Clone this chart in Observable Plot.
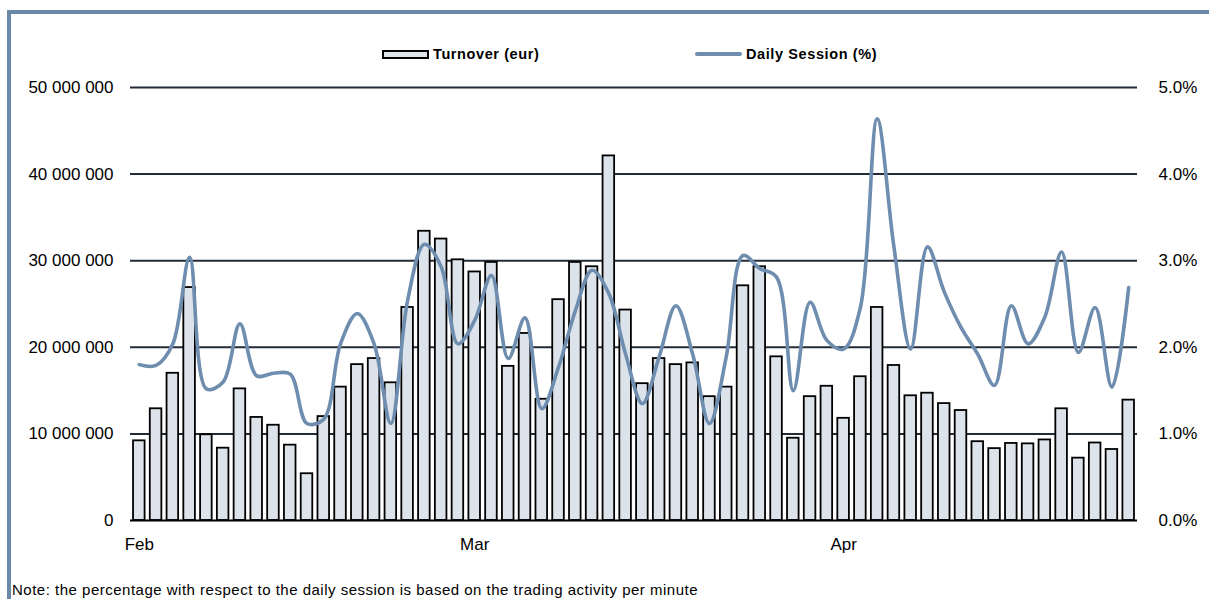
<!DOCTYPE html>
<html>
<head>
<meta charset="utf-8">
<script src="https://cdn.jsdelivr.net/npm/d3@7"></script>
<script src="https://cdn.jsdelivr.net/npm/@observablehq/plot@0.6"></script>
<style>
  html, body { margin: 0; padding: 0; background: #fff; }
  #wrap { position: relative; width: 1209px; height: 599px; overflow: hidden; font-family: "Liberation Sans", Arial, sans-serif; color: #000; }
  .border-top { position: absolute; left: 7px; top: 10px; width: 1202px; height: 4px; background: #6A89A9; }
  .border-left { position: absolute; left: 7px; top: 10px; width: 4px; height: 589px; background: #6A89A9; }
  #chart { position: absolute; left: 0; top: 70px; }
  .legend { position: absolute; top: 46px; font-size: 14.5px; font-weight: bold; letter-spacing: 0.6px; display: flex; align-items: center; white-space: nowrap; }
  .sw-bar { width: 43px; height: 5px; background: #DCE3EA; border: 2px solid #000; margin-right: 4px; }
  .sw-line { width: 47px; height: 4px; background: #6E8DAF; border-radius: 2px; margin-right: 4px; }
  .note { position: absolute; left: 12px; top: 581px; font-size: 15px; line-height: 17px; letter-spacing: 0.5px; white-space: nowrap; }
</style>
</head>
<body>
<div id="wrap">
  <div class="border-top"></div>
  <div class="border-left"></div>
  <div class="legend" style="left:382px"><div class="sw-bar"></div>Turnover (eur)</div>
  <div class="legend" style="left:695px"><div class="sw-line"></div>Daily Session (%)</div>
  <div id="chart"></div>
  <div class="note">Note: the percentage with respect to the daily session is based on the trading activity per minute</div>
</div>
<script>
// Trading days (categories)
const days = [
  "02-03","02-04","02-05","02-06","02-07","02-10","02-11","02-12","02-13","02-14",
  "02-17","02-18","02-19","02-20","02-21","02-24","02-25","02-26","02-27","02-28",
  "03-02","03-03","03-04","03-05","03-06","03-09","03-10","03-11","03-12","03-13",
  "03-16","03-17","03-18","03-19","03-20","03-23","03-24","03-25","03-26","03-27",
  "03-30","03-31","04-01","04-02","04-03","04-06","04-07","04-08","04-09","04-14",
  "04-15","04-16","04-17","04-20","04-21","04-22","04-23","04-24","04-27","04-28"
];

// Turnover (eur), millions
const turnover = [
  9.2, 12.9, 17.0, 26.9, 9.9, 8.35, 15.2, 11.9, 11.0, 8.7,
  5.4, 12.0, 15.4, 18.0, 18.7, 15.9, 24.6, 33.4, 32.5, 30.1,
  28.7, 29.8, 17.8, 21.6, 14.0, 25.5, 29.8, 29.3, 42.1, 24.3,
  15.8, 18.7, 18.0, 18.2, 14.3, 15.4, 27.1, 29.3, 18.9, 9.5,
  14.3, 15.5, 11.8, 16.6, 24.6, 17.9, 14.4, 14.7, 13.5, 12.7,
  9.1, 8.3, 8.9, 8.85, 9.3, 12.9, 7.2, 8.95, 8.2, 13.9
];

// Daily Session (%)
const session = [
  1.80, 1.79, 2.04, 3.04, 1.52, 1.60, 2.27, 1.67, 1.70, 1.69,
  1.12, 1.17, 2.04, 2.39, 2.04, 1.12, 2.54, 3.19, 2.93, 2.04,
  2.31, 2.83, 1.87, 2.34, 1.29, 1.77, 2.42, 2.89, 2.62, 1.92,
  1.35, 1.89, 2.48, 1.92, 1.12, 1.89, 3.06, 2.91, 2.81, 1.50,
  2.52, 2.08, 1.98, 2.46, 4.64, 3.16, 1.98, 3.16, 2.64, 2.23,
  1.92, 1.56, 2.48, 2.04, 2.35, 3.10, 1.94, 2.46, 1.54, 2.69
];

const monthTicks = ["02-03", "03-02", "04-01"];
const monthLabels = ["Feb", "Mar", "Apr"];
const leftTicks = [0, 10e6, 20e6, 30e6, 40e6, 50e6];
const rightTickLabels = ["0.0%", "1.0%", "2.0%", "3.0%", "4.0%", "5.0%"];

const rows = days.map((d, i) => ({day: d, turnover: turnover[i] * 1e6, pct: session[i]}));
const PCT = 1e7; // 1% on right axis == 10 000 000 on left axis

const fmtLeft = v => d3.format(",")(v).replace(/,/g, " ");

const chart = Plot.plot({
  width: 1209,
  height: 490,
  marginLeft: 130,
  marginRight: 72,
  marginTop: 17,
  marginBottom: 40,
  style: {fontFamily: "'Liberation Sans', Arial, sans-serif", fontSize: "17px", color: "#000", background: "transparent"},
  x: {type: "band", domain: days, paddingInner: 0.31, paddingOuter: 0.18, axis: null},
  y: {domain: [0, 50e6], axis: null},
  marks: [
    Plot.ruleY(leftTicks.slice(1), {stroke: "#222b36", strokeWidth: 2}),
    Plot.barY(rows, {x: "day", y: "turnover", fill: "#DCE3EA", stroke: "#000", strokeWidth: 1.8}),
    Plot.ruleY([0], {stroke: "#000", strokeWidth: 2}),
    Plot.line(rows, {x: "day", y: d => d.pct * PCT, stroke: "#6E8DAF", strokeWidth: 3.6, curve: "catmull-rom"}),
    Plot.axisY(leftTicks, {anchor: "left", label: null, tickSize: 0, tickPadding: 17, tickFormat: fmtLeft, fill: "#000", fontSize: 17}),
    Plot.axisY(leftTicks, {anchor: "right", label: null, tickSize: 0, tickPadding: 21, tickFormat: (d, i) => rightTickLabels[i], fill: "#000", fontSize: 17}),
    Plot.axisX(monthTicks, {anchor: "bottom", label: null, tickSize: 0, tickPadding: 17, tickFormat: (d, i) => monthLabels[i], fill: "#000", fontSize: 17})
  ]
});
document.getElementById("chart").appendChild(chart);
</script>
</body>
</html>
